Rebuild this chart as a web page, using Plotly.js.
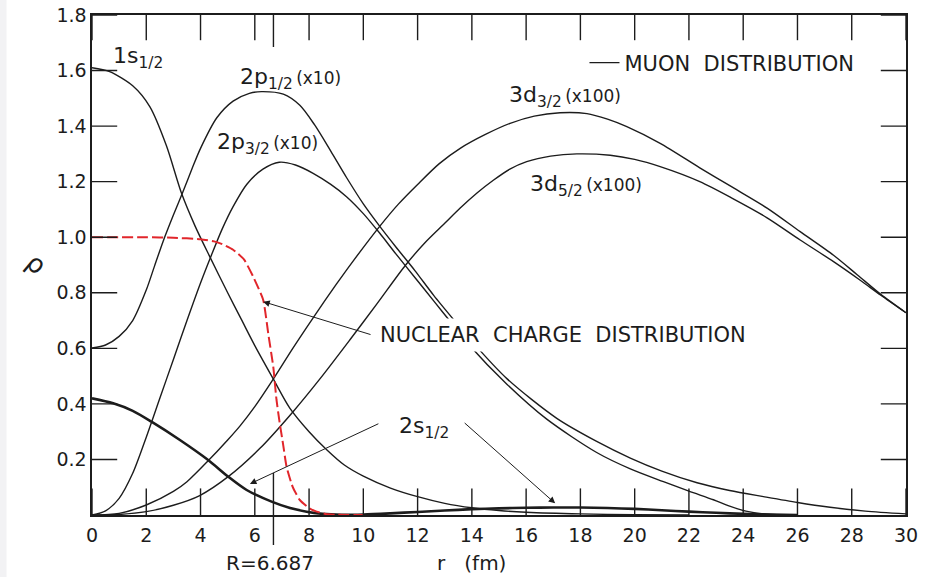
<!DOCTYPE html>
<html><head><meta charset="utf-8">
<script src="https://cdn.plot.ly/plotly-3.0.1.min.js"></script>
<style>html,body{margin:0;padding:0;background:#fff;}#chart{width:935px;height:577px;}</style>
</head><body><div id="chart"></div>
<script>
// ---- data (r in fm, rho) ----
const r_1s   = [0, 0.65, 1.5, 2.13, 2.74, 3.3, 3.8, 4.34, 5.0, 5.5, 6.0, 6.68, 7.29, 8.0, 8.65, 9.3, 10, 11, 12, 13, 14, 15, 16, 18, 20, 22];
const rho_1s = [1.61, 1.596, 1.545, 1.47, 1.33, 1.158, 1.04, 0.93, 0.80, 0.705, 0.61, 0.49, 0.385, 0.30, 0.235, 0.18, 0.14, 0.097, 0.066, 0.042, 0.026, 0.016, 0.010, 0.004, 0.001, 0];

const r_2s   = [0, 0.78, 1.5, 2.19, 3.24, 4.28, 5.02, 5.7, 6.62, 7.3, 7.91, 8.5, 9.2, 10, 11, 12, 13, 14, 15, 16, 17, 18, 19, 20, 21, 22, 23, 24, 25, 26];
const rho_2s = [0.42, 0.402, 0.375, 0.336, 0.27, 0.198, 0.138, 0.09, 0.048, 0.025, 0.012, 0.004, 0.001, 0.002, 0.006, 0.011, 0.016, 0.021, 0.024, 0.026, 0.027, 0.027, 0.025, 0.022, 0.017, 0.012, 0.008, 0.004, 0.002, 0];

const r_2p12   = [0, 0.5, 1.0, 1.5, 2.0, 2.3, 2.62, 3.0, 3.33, 3.7, 4.0, 4.6, 5.2, 5.8, 6.25, 7.05, 7.66, 8.2, 8.8, 9.38, 10.0, 10.6, 11.2, 11.9, 12.6, 13.4, 14.0, 15.3, 17.13, 18.6, 19.84, 21, 22.3, 23.5, 24.75, 26, 27.2, 28.5, 30];
const rho_2p12 = [0.601, 0.612, 0.643, 0.70, 0.81, 0.895, 0.985, 1.08, 1.158, 1.25, 1.32, 1.43, 1.49, 1.518, 1.524, 1.515, 1.475, 1.405, 1.31, 1.215, 1.12, 1.04, 0.965, 0.88, 0.79, 0.695, 0.625, 0.49, 0.348, 0.265, 0.205, 0.158, 0.116, 0.088, 0.066, 0.045, 0.028, 0.014, 0.004];

const r_2p32   = [0, 0.5, 1.0, 1.5, 2.0, 2.5, 3.0, 3.5, 4.0, 4.4, 4.8, 5.2, 5.7, 6.3, 6.9, 7.5, 8.15, 8.8, 9.38, 10.0, 10.6, 11.2, 11.9, 12.6, 13.3, 13.9, 15.3, 16.76, 18.6, 19.84, 21.06, 22, 22.9, 23.5, 24.1, 24.75, 25.5];
const rho_2p32 = [0, 0.015, 0.06, 0.15, 0.28, 0.42, 0.56, 0.70, 0.835, 0.935, 1.03, 1.11, 1.19, 1.245, 1.27, 1.26, 1.23, 1.19, 1.146, 1.085, 1.015, 0.94, 0.855, 0.77, 0.685, 0.612, 0.47, 0.345, 0.225, 0.166, 0.12, 0.086, 0.055, 0.032, 0.014, 0.004, 0];

const r_3d32   = [0, 1, 2, 3, 3.5, 4.28, 5, 5.45, 6, 6.62, 7.4, 8.15, 9, 9.63, 10.61, 11.3, 12, 12.8, 13.57, 14.5, 15.41, 16.3, 17.25, 18.24, 19, 19.71, 20.94, 22.4, 23.6, 24.88, 26.1, 27.33, 28.2, 29.06, 30];
const rho_3d32 = [0, 0.006, 0.036, 0.085, 0.12, 0.195, 0.27, 0.32, 0.39, 0.48, 0.60, 0.71, 0.83, 0.915, 1.04, 1.12, 1.19, 1.265, 1.32, 1.37, 1.41, 1.436, 1.448, 1.445, 1.425, 1.398, 1.338, 1.25, 1.18, 1.105, 1.02, 0.935, 0.865, 0.795, 0.728];

const r_3d52   = [0, 1, 2, 3, 3.97, 5.02, 6.19, 7.41, 8.4, 9.5, 10.5, 11.56, 12.27, 13.0, 13.57, 14.2, 14.79, 15.4, 16.02, 16.9, 17.87, 19.1, 20.0, 20.94, 22.4, 23.6, 24.88, 26.1, 27.33, 28.3, 29.06, 30];
const rho_3d52 = [0, 0.002, 0.012, 0.035, 0.07, 0.138, 0.24, 0.372, 0.49, 0.63, 0.76, 0.9, 0.98, 1.05, 1.105, 1.16, 1.205, 1.245, 1.272, 1.292, 1.3, 1.295, 1.28, 1.254, 1.2, 1.14, 1.07, 0.99, 0.912, 0.846, 0.792, 0.728];

const r_nuc   = [0, 2, 3, 4, 4.5, 4.8, 5.2, 5.6, 5.94, 6.31, 6.5, 6.68, 6.8, 6.92, 7.05, 7.17, 7.4, 7.66, 8.0, 8.28, 8.6, 9.0, 10];
const rho_nuc = [1.0, 1.0, 0.998, 0.993, 0.985, 0.975, 0.955, 0.92, 0.858, 0.774, 0.65, 0.534, 0.414, 0.33, 0.25, 0.174, 0.1, 0.054, 0.025, 0.012, 0.004, 0.001, 0];

const xTickVals = [0, 2, 4, 6, 8, 10, 12, 14, 16, 18, 20, 22, 24, 26, 28, 30];
const yTickVals = [0.2, 0.4, 0.6, 0.8, 1.0, 1.2, 1.4, 1.6, 1.8];
const yTickText = ["0.2", "0.4", "0.6", "0.8", "1.0", "1.2", "1.4", "1.6", "1.8"];
const xRange = [0, 30];
const yRange = [0, 1.8];
const R_nuc = 6.687;

const FONT = "DejaVu Sans";
const INK = "#1c1c1c";
const thin = {color: INK, width: 1.4, shape: "spline", smoothing: 0.8};

function curve(x, y, line, extra) {
  return Object.assign({x: x, y: y, type: "scatter", mode: "lines", line: line,
    hoverinfo: "skip", showlegend: false}, extra || {});
}
// inward tick marks: a line marker centred on the frame, half of it clipped away by the plot area
function tickRow(x, y, symbol, size) {
  return {x: x, y: y, type: "scatter", mode: "markers", cliponaxis: true, hoverinfo: "skip", showlegend: false,
    marker: {symbol: symbol, size: size, color: INK, line: {color: INK, width: 1.4}}};
}

const traces = [
  curve(r_1s, rho_1s, thin, {name: "MUON\u00a0\u00a0DISTRIBUTION", showlegend: true}),
  curve(r_2p12, rho_2p12, thin),
  curve(r_2p32, rho_2p32, thin),
  curve(r_3d32, rho_3d32, thin),
  curve(r_3d52, rho_3d52, thin),
  curve(r_2s, rho_2s, {color: INK, width: 2.6, shape: "spline", smoothing: 0.8}),
  curve(r_nuc, rho_nuc, {color: "#e1262b", width: 2, dash: "11px,4px", shape: "spline", smoothing: 0.5}),
  tickRow(xTickVals, xTickVals.map(() => yRange[0]), "line-ns", 38),
  tickRow(xTickVals, xTickVals.map(() => yRange[1]), "line-ns", 36),
  tickRow(yTickVals.map(() => xRange[0]), yTickVals, "line-ew", 36),
  tickRow(yTickVals.map(() => xRange[1]), yTickVals, "line-ew", 36)
];

function label(text, x, y, size, extra) {
  return Object.assign({text: text, x: x, y: y, xref: "x", yref: "y", xanchor: "left", yanchor: "middle",
    showarrow: false, font: {family: FONT, size: size, color: INK}}, extra || {});
}
function arrow(x, y, ax, ay) {
  return {text: "", x: x, y: y, ax: ax, ay: ay, xref: "x", yref: "y", axref: "x", ayref: "y",
    showarrow: true, arrowhead: 2, arrowsize: 1.3, arrowwidth: 1, arrowcolor: INK, standoff: 0, startstandoff: 0};
}
const small = "<span style='font-size:17px'>\u2009";

const annotations = [
  label("1s<sub>1/2</sub>", 0.69, 1.648, 22),
  label("2p<sub>1/2</sub>" + small + "(x10)</span>", 5.38, 1.572, 22),
  label("2p<sub>3/2</sub>" + small + "(x10)</span>", 4.53, 1.336, 22),
  label("3d<sub>3/2</sub>" + small + "(x100)</span>", 15.3, 1.505, 22),
  label("3d<sub>5/2</sub>" + small + "(x100)</span>", 16.07, 1.188, 22),
  label("2s<sub>1/2</sub>", 11.23, 0.316, 22),
  label("NUCLEAR\u00a0\u00a0CHARGE\u00a0\u00a0DISTRIBUTION", 10.43, 0.648, 21, {bgcolor: "#ffffff", borderpad: 4}),
  label("R=6.687", R_nuc - 0.13, -0.096, 20, {yref: "paper", xanchor: "center"}),
  label("r\u00a0\u00a0\u00a0(fm)", 13.99, -0.096, 20, {yref: "paper", xanchor: "center"}),
  label("\u03c1", -0.068, 0.502, 26, {xref: "paper", yref: "paper", xanchor: "center", textangle: 40}),
  arrow(6.31, 0.768, 10.32, 0.648),
  arrow(5.82, 0.112, 10.61, 0.331),
  arrow(17.07, 0.042, 13.68, 0.336)
];

const shapes = [
  {type: "line", xref: "x", yref: "paper", x0: R_nuc, x1: R_nuc, y0: 1, y1: 0.936, line: {color: INK, width: 1.4}},
  {type: "line", xref: "x", yref: "paper", x0: R_nuc, x1: R_nuc, y0: 0.084, y1: -0.06, line: {color: INK, width: 1.4}},
  {type: "rect", xref: "paper", yref: "paper", x0: -0.1135, x1: -0.105, y0: -0.124, y1: 1.03, layer: "below",
   fillcolor: "#f2f2f4", line: {width: 0}}
];

const axisCommon = {showline: true, linecolor: INK, linewidth: 1.6, mirror: true, ticks: "",
  showgrid: false, zeroline: false, tickfont: {family: FONT, size: 19, color: INK}};

const layout = {
  width: 935, height: 577,
  margin: {l: 92, r: 29, t: 15, b: 62},
  paper_bgcolor: "#ffffff", plot_bgcolor: "#ffffff",
  xaxis: Object.assign({}, axisCommon, {range: xRange, tickmode: "array", tickvals: xTickVals, ticklabelstandoff: 3}),
  yaxis: Object.assign({}, axisCommon, {range: yRange, tickmode: "array", tickvals: yTickVals, ticktext: yTickText}),
  showlegend: true,
  legend: {x: 0.605, y: 0.904, xanchor: "left", yanchor: "middle", bgcolor: "rgba(0,0,0,0)",
    font: {family: FONT, size: 21, color: INK}},
  annotations: annotations,
  shapes: shapes
};

Plotly.newPlot("chart", traces, layout, {staticPlot: true, displayModeBar: false});
</script></body></html>
